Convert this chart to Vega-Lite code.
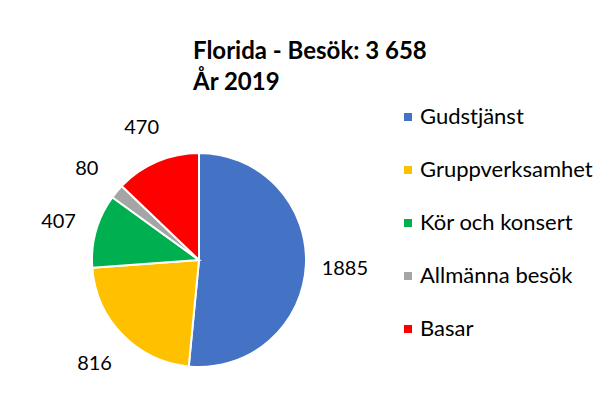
{
  "$schema": "https://vega.github.io/schema/vega-lite/v6.json",
  "width": 214,
  "height": 214,
  "autosize": "none",
  "padding": {"left": 92, "top": 153, "right": 300, "bottom": 45},
  "background": "white",
  "title": {
    "text": ["Florida - Besök: 3 658", "År 2019"],
    "anchor": "start",
    "frame": "group",
    "dx": 101,
    "offset": 11,
    "font": "Lato",
    "fontSize": 24,
    "fontWeight": "bold",
    "lineHeight": 31,
    "color": "#000000"
  },
  "data": {
    "values": [
      {"kategori": "Gudstjänst", "besok": 1885, "ordning": 1},
      {"kategori": "Gruppverksamhet", "besok": 816, "ordning": 2},
      {"kategori": "Kör och konsert", "besok": 407, "ordning": 3},
      {"kategori": "Allmänna besök", "besok": 80, "ordning": 4},
      {"kategori": "Basar", "besok": 470, "ordning": 5}
    ]
  },
  "encoding": {
    "theta": {"field": "besok", "type": "quantitative", "stack": true},
    "order": {"field": "ordning", "type": "quantitative"}
  },
  "layer": [
    {
      "mark": {"type": "arc", "outerRadius": 107, "stroke": "white", "strokeWidth": 2},
      "encoding": {
        "color": {
          "field": "kategori",
          "type": "nominal",
          "scale": {
            "domain": ["Gudstjänst", "Gruppverksamhet", "Kör och konsert", "Allmänna besök", "Basar"],
            "range": ["#4472C4", "#FFC000", "#00B050", "#A5A5A5", "#FF0000"]
          },
          "legend": {
            "orient": "none",
            "legendX": 305,
            "legendY": -47,
            "title": null,
            "symbolType": "square",
            "symbolSize": 64,
            "symbolStrokeWidth": 0,
            "labelFont": "Lato",
            "labelFontSize": 22,
            "labelColor": "#000000",
            "labelLimit": 400,
            "rowPadding": 31,
            "labelOffset": 1,
            "padding": 0
          }
        }
      }
    },
    {
      "mark": {"type": "text", "radius": 146, "font": "Lato", "fontSize": 20, "align": "center", "baseline": "middle", "dy": 2},
      "encoding": {
        "text": {"field": "besok", "type": "quantitative"},
        "color": {"value": "#000000"}
      }
    }
  ],
  "config": {"view": {"stroke": null}}
}
